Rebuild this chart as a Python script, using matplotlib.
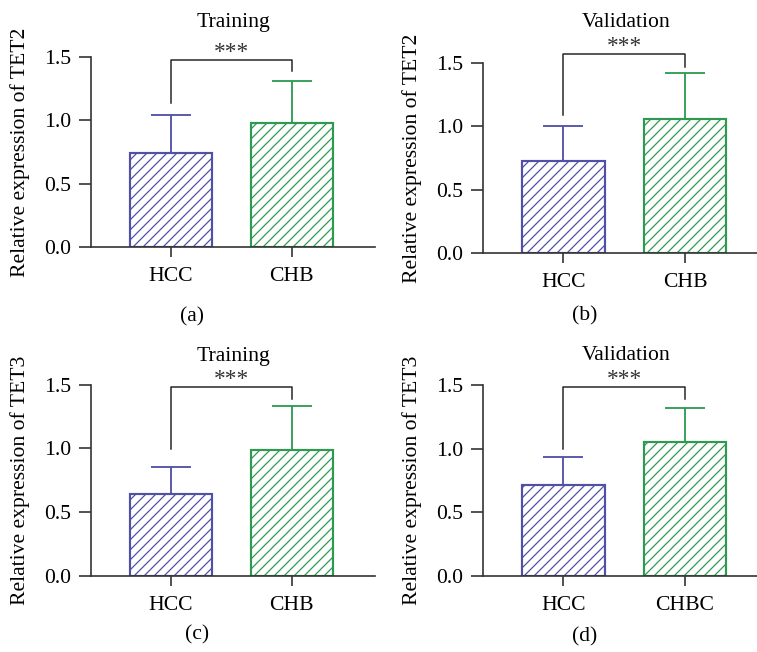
import matplotlib
matplotlib.use('Agg')
import matplotlib.pyplot as plt

plt.rcParams['font.family'] = ['Liberation Serif', 'DejaVu Serif']
plt.rcParams['font.size'] = 13
plt.rcParams['hatch.linewidth'] = 0.75

# data
groups_top = ['HCC', 'CHB']
groups_d = ['HCC', 'CHBC']
titles = ['Training', 'Validation', 'Training', 'Validation']
ylabels = ['Relative expression of TET2', 'Relative expression of TET2',
           'Relative expression of TET3', 'Relative expression of TET3']
panel_tags = ['(a)', '(b)', '(c)', '(d)']

hcc_mean = [0.74, 0.725, 0.64, 0.71]
hcc_sd = [0.305, 0.275, 0.21, 0.22]
chb_mean = [0.98, 1.06, 0.985, 1.05]
chb_sd = [0.33, 0.36, 0.345, 0.27]

# significance bracket: top, left leg end, right leg end
bracket_top = [1.48, 1.572, 1.482, 1.484]
bracket_left = [1.134, 1.093, 0.993, 0.994]
bracket_right = [1.386, 1.47, 1.386, 1.388]

yticks = [0.0, 0.5, 1.0, 1.5]

blue = '#5050A8'
green = '#2E9A50'
axis_col = '#333333'

W, H = 757, 652
fig = plt.figure(figsize=(W / 120, H / 120), dpi=120)

# axes boxes in pixels: left, right, bottom(y of 0), top(y of 1.5)
boxes = [(91, 375, 247, 57),
         (483, 769, 253.3, 63),
         (91, 375, 575.7, 384.7),
         (483, 769, 575.7, 385)]
title_y = [22.5, 22.5, 356, 356]
tag_pos = [(192, 317), (585, 316), (197, 635), (585, 637)]

for i in range(4):
    l, r, b, t = boxes[i]
    ax = fig.add_axes([l / W, 1 - b / H, (r - l) / W, (b - t) / H])
    labels = groups_d if i == 3 else groups_top
    x = [0, 1]
    ax.bar(x, [hcc_mean[i], chb_mean[i]], width=0.68, color='white',
           edgecolor=[blue, green], hatch='////', linewidth=1.3, zorder=2)
    ax.errorbar(0, hcc_mean[i], yerr=[[0], [hcc_sd[i]]], color=blue,
                capsize=12, elinewidth=1.1, capthick=1.1, fmt='none', zorder=1)
    ax.errorbar(1, chb_mean[i], yerr=[[0], [chb_sd[i]]], color=green,
                capsize=12, elinewidth=1.1, capthick=1.1, fmt='none', zorder=1)

    # bracket
    ax.plot([0, 0, 1, 1], [bracket_left[i], bracket_top[i], bracket_top[i], bracket_right[i]],
            color='#222222', linewidth=0.9, clip_on=False)
    ax.annotate('***', xy=(0.5, bracket_top[i]), xytext=(0, 1),
                textcoords='offset points', ha='center', va='baseline',
                fontsize=14, color='#333333', annotation_clip=False)

    ax.set_xlim(-0.66, 1.69)
    ax.set_ylim(0, 1.5)
    ax.set_yticks(yticks)
    ax.set_yticklabels(['0.0', '0.5', '1.0', '1.5'])
    ax.set_xticks(x)
    ax.set_xticklabels(labels)
    ax.tick_params(axis='y', length=7, width=1, color=axis_col, pad=5)
    ax.tick_params(axis='x', length=6, width=1, color=axis_col, pad=6)

    for s in ['top', 'right']:
        ax.spines[s].set_visible(False)
    for s in ['left', 'bottom']:
        ax.spines[s].set_color(axis_col)
        ax.spines[s].set_linewidth(1.0)

    ax.set_ylabel(ylabels[i], va='center')
    ax.yaxis.set_label_coords(-70.5 / (r - l), 0.5)

    fig.text((l + r) / 2 / W, 1 - title_y[i] / H, titles[i],
             ha='center', va='center', fontsize=13)
    fig.text(tag_pos[i][0] / W, 1 - tag_pos[i][1] / H, panel_tags[i],
             ha='center', va='center', fontsize=13)

plt.savefig('out.png', dpi=120)
